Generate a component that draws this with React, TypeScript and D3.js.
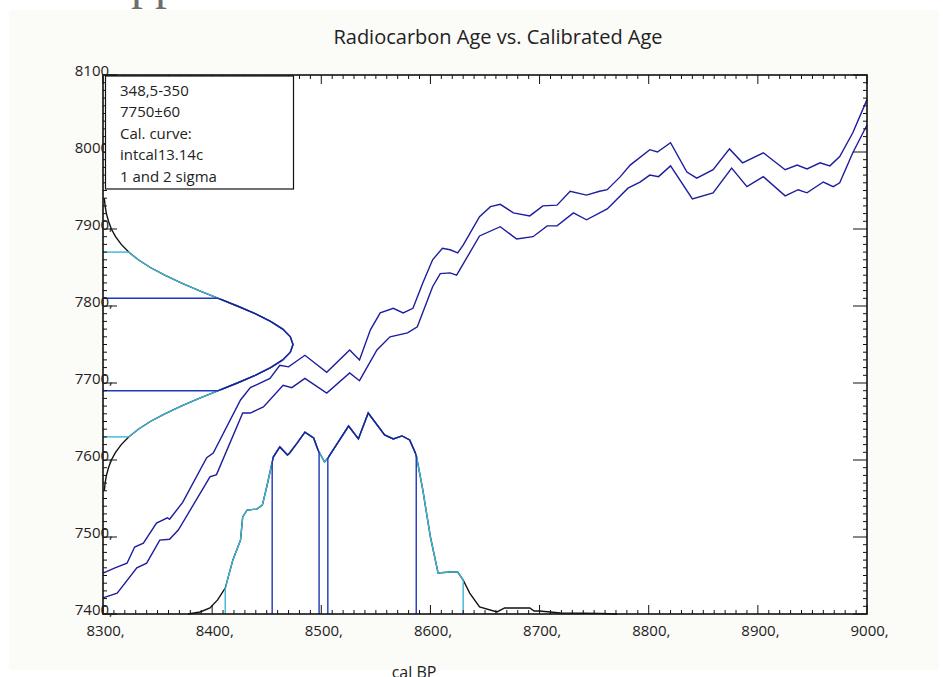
import React from "react";
import * as d3 from "d3";

// ---- calibration curve (upper / lower band) ----
const upperCal = [8300, 8311, 8322, 8329, 8337, 8349, 8359, 8361, 8373, 8395, 8401, 8426, 8435, 8453, 8462, 8470, 8485, 8505, 8526, 8535, 8545, 8554, 8566, 8575, 8584, 8593, 8602, 8611, 8618, 8625, 8630, 8645, 8655, 8664, 8676, 8691, 8703, 8716, 8728, 8743, 8755, 8762, 8774, 8783, 8801, 8808, 8820, 8835, 8844, 8859, 8874, 8886, 8905, 8925, 8936, 8945, 8957, 8966, 8975, 8987, 9000];
const upperC14 = [7453, 7460, 7466, 7487, 7492, 7518, 7525, 7523, 7545, 7603, 7609, 7678, 7694, 7706, 7723, 7721, 7736, 7714, 7743, 7730, 7769, 7791, 7797, 7791, 7797, 7830, 7860, 7875, 7873, 7869, 7879, 7916, 7929, 7932, 7921, 7917, 7930, 7931, 7949, 7944, 7949, 7951, 7968, 7983, 8003, 8000, 8012, 7974, 7966, 7977, 8004, 7986, 7999, 7977, 7983, 7978, 7986, 7982, 7994, 8025, 8068];
const lowerCal = [8300, 8313, 8331, 8340, 8352, 8361, 8369, 8398, 8404, 8428, 8435, 8447, 8465, 8473, 8485, 8505, 8526, 8535, 8551, 8563, 8579, 8588, 8602, 8609, 8618, 8624, 8645, 8664, 8679, 8694, 8707, 8716, 8731, 8743, 8762, 8781, 8792, 8801, 8809, 8820, 8840, 8859, 8876, 8890, 8905, 8925, 8937, 8945, 8960, 8969, 8975, 8987, 9000];
const lowerC14 = [7421, 7427, 7460, 7466, 7496, 7497, 7509, 7578, 7581, 7661, 7661, 7669, 7697, 7694, 7706, 7687, 7713, 7703, 7743, 7760, 7765, 7773, 7825, 7842, 7843, 7840, 7891, 7903, 7887, 7890, 7904, 7904, 7921, 7912, 7926, 7953, 7961, 7970, 7968, 7982, 7939, 7947, 7979, 7955, 7968, 7943, 7951, 7947, 7961, 7955, 7960, 7999, 8035];

// ---- calibrated age probability distribution ----
const calDistAge = [8378, 8389, 8398, 8405, 8412, 8419, 8426, 8428, 8432, 8441, 8446, 8450, 8455, 8456, 8462, 8469, 8471, 8478, 8485, 8493, 8497, 8503, 8506, 8525, 8534, 8543, 8558, 8566, 8574, 8581, 8587, 8593, 8600, 8607, 8618, 8625, 8630, 8636, 8645, 8661, 8668, 8676, 8691, 8695, 8700, 8719, 8740, 8755, 8771];
const calDistProb = [0, 0.010, 0.030, 0.070, 0.129, 0.269, 0.368, 0.483, 0.517, 0.522, 0.542, 0.632, 0.756, 0.781, 0.831, 0.791, 0.801, 0.851, 0.905, 0.876, 0.816, 0.756, 0.776, 0.935, 0.871, 1.000, 0.891, 0.871, 0.886, 0.866, 0.791, 0.617, 0.383, 0.204, 0.209, 0.209, 0.169, 0.104, 0.035, 0.010, 0.030, 0.030, 0.030, 0.015, 0.015, 0.005, 0.004, 0.003, 0];
const twoSigmaCal = [8412, 8630];
const oneSigmaCal = [[8455, 8498], [8506, 8587]];

// ---- radiocarbon determination (7750±60) ----
const c14Age = [7560, 7570, 7580, 7590, 7600, 7610, 7620, 7630, 7640, 7650, 7660, 7670, 7680, 7690, 7700, 7710, 7720, 7730, 7740, 7750, 7760, 7770, 7780, 7790, 7800, 7810, 7820, 7830, 7840, 7850, 7860, 7870, 7880, 7890, 7900, 7910, 7920, 7930, 7940];
const c14Prob = [0.007, 0.011, 0.018, 0.029, 0.044, 0.066, 0.096, 0.135, 0.186, 0.249, 0.325, 0.411, 0.506, 0.607, 0.707, 0.801, 0.882, 0.946, 0.986, 1.0, 0.986, 0.946, 0.882, 0.801, 0.707, 0.607, 0.506, 0.411, 0.325, 0.249, 0.186, 0.135, 0.096, 0.066, 0.044, 0.029, 0.018, 0.011, 0.007];
const twoSigmaC14 = [7630, 7870];
const oneSigmaC14 = [7690, 7810];

// ---- axes / text ----
const xTickValues = [8300, 8400, 8500, 8600, 8700, 8800, 8900, 9000];
const yTickValues = [7400, 7500, 7600, 7700, 7800, 7900, 8000, 8100];
const legendLines = ["348,5-350", "7750±60", "Cal. curve:", "intcal13.14c", "1 and 2 sigma"];
const titleText = "Radiocarbon Age vs. Calibrated Age";
const xAxisTitle = "cal BP";

const BLUE_DARK = "#1d1d9e";
const BLUE = "#2136b8";
const CYAN = "#3cb6d6";
const FONT = "'Open Sans', 'Noto Sans', sans-serif";

export default function App() {
  const L = 103, R = 867, T = 75, B = 614;
  const x = d3.scaleLinear().domain([8300, 9000]).range([L, R]);
  const y = d3.scaleLinear().domain([7400, 8100]).range([B, T]);
  const ph = d3.scaleLinear().domain([0, 1]).range([B, 413]);
  const gw = d3.scaleLinear().domain([0, 1]).range([L, 293]);
  const calInterp = d3.scaleLinear().domain(calDistAge).range(calDistProb);
  const c14Interp = d3.scaleLinear().domain(c14Age).range(c14Prob);

  const line = d3.line();
  const upperPath = line(upperCal.map((c, i) => [x(c), y(upperC14[i])] as [number, number]));
  const lowerPath = line(lowerCal.map((c, i) => [x(c), y(lowerC14[i])] as [number, number]));
  const distPath = line(calDistAge.map((a, i) => [x(a), ph(calDistProb[i])] as [number, number]));
  const gaussPath = line(c14Age.map((a, i) => [gw(c14Prob[i]), y(a)] as [number, number]));

  const xMinor = d3.range(8300, 9001, 10);
  const yMinor = d3.range(7400, 8101, 10);

  const sw = 1.4;

  return (
    <svg width={943} height={677} style={{ position: "absolute", left: 0, top: 0, background: "#ffffff" }} fontFamily={FONT}>
      <defs>
        <clipPath id="cx2">
          <rect x={x(twoSigmaCal[0])} y={0} width={x(twoSigmaCal[1]) - x(twoSigmaCal[0])} height={677} />
        </clipPath>
        {oneSigmaCal.map((r, i) => (
          <clipPath id={`cx1_${i}`} key={i}>
            <rect x={x(r[0])} y={0} width={x(r[1]) - x(r[0])} height={677} />
          </clipPath>
        ))}
        <clipPath id="cy2">
          <rect x={0} y={y(twoSigmaC14[1])} width={943} height={y(twoSigmaC14[0]) - y(twoSigmaC14[1])} />
        </clipPath>
        <clipPath id="cy1">
          <rect x={0} y={y(oneSigmaC14[1])} width={943} height={y(oneSigmaC14[0]) - y(oneSigmaC14[1])} />
        </clipPath>
      </defs>

      {/* page background panel */}
      <rect x={9} y={10} width={930} height={660} fill="#fbfbf8" />
      <text x={131} y={-1} fontFamily="'Liberation Serif', serif" fontSize={48} fill="#6e6e6e">pp</text>

      {/* title */}
      <text x={498} y={44} textAnchor="middle" fontSize={20} fill="#222">{titleText}</text>

      {/* plot area */}
      <rect x={L} y={T} width={R - L} height={B - T} fill="#ffffff" />

      {/* calibration curve */}
      <path d={upperPath || ""} fill="none" stroke={BLUE_DARK} strokeWidth={sw} />
      <path d={lowerPath || ""} fill="none" stroke={BLUE_DARK} strokeWidth={sw} />

      {/* calibrated distribution */}
      <path d={distPath || ""} fill="none" stroke="#111" strokeWidth={sw} />
      <path d={distPath || ""} fill="none" stroke={CYAN} strokeWidth={sw} clipPath="url(#cx2)" />
      {oneSigmaCal.map((r, i) => (
        <path key={i} d={distPath || ""} fill="none" stroke={BLUE_DARK} strokeWidth={sw} clipPath={`url(#cx1_${i})`} />
      ))}
      {twoSigmaCal.map((v, i) => (
        <line key={`c2${i}`} x1={x(v)} x2={x(v)} y1={B} y2={ph(calInterp(v))} stroke={CYAN} strokeWidth={1.4} />
      ))}
      {oneSigmaCal.flat().map((v, i) => (
        <line key={`c1${i}`} x1={x(v)} x2={x(v)} y1={B} y2={ph(calInterp(v))} stroke={BLUE} strokeWidth={1.4} />
      ))}

      {/* radiocarbon gaussian */}
      <path d={gaussPath || ""} fill="none" stroke="#111" strokeWidth={sw} />
      <path d={gaussPath || ""} fill="none" stroke={CYAN} strokeWidth={sw} clipPath="url(#cy2)" />
      <path d={gaussPath || ""} fill="none" stroke={BLUE_DARK} strokeWidth={sw} clipPath="url(#cy1)" />
      {twoSigmaC14.map((v, i) => (
        <line key={`g2${i}`} x1={L} x2={gw(c14Interp(v))} y1={y(v)} y2={y(v)} stroke={CYAN} strokeWidth={1.4} />
      ))}
      {oneSigmaC14.map((v, i) => (
        <line key={`g1${i}`} x1={L} x2={gw(c14Interp(v))} y1={y(v)} y2={y(v)} stroke={BLUE} strokeWidth={1.4} />
      ))}

      {/* ticks */}
      <g stroke="#111" strokeWidth={1}>
        {xMinor.map((v) => {
          const major = v % 100 === 0;
          const len = major ? 9 : 4;
          return (
            <g key={`xt${v}`}>
              <line x1={x(v)} x2={x(v)} y1={B} y2={B - len} />
              <line x1={x(v)} x2={x(v)} y1={T} y2={T + len} />
            </g>
          );
        })}
        {yMinor.map((v) => {
          const major = v % 100 === 0;
          const len = major ? 14 : 4;
          return (
            <g key={`yt${v}`}>
              <line x1={L} x2={L + len} y1={y(v)} y2={y(v)} />
              <line x1={R} x2={R - len} y1={y(v)} y2={y(v)} />
            </g>
          );
        })}
      </g>

      {/* frame */}
      <rect x={L} y={T} width={R - L} height={B - T} fill="none" stroke="#111" strokeWidth={1.6} />

      {/* tick labels */}
      {xTickValues.map((v) => (
        <text key={`xl${v}`} x={x(v) - 16.5} y={636} fontSize={15} fill="#222">{`${v},`}</text>
      ))}
      {yTickValues.map((v) => (
        <text key={`yl${v}`} x={113} y={y(v) + 1} textAnchor="end" fontSize={15} fill="#222">{`${v},`}</text>
      ))}

      {/* legend box */}
      <rect x={105.5} y={76} width={188} height={113} fill="#ffffff" stroke="#111" strokeWidth={1.2} />
      {legendLines.map((s, i) => (
        <text key={`lg${i}`} x={120} y={95.5 + i * 21.5} fontSize={15} fill="#222">{s}</text>
      ))}

      {/* x axis title */}
      <text x={414} y={678} textAnchor="middle" fontSize={16} fill="#222">{xAxisTitle}</text>
    </svg>
  );
}
